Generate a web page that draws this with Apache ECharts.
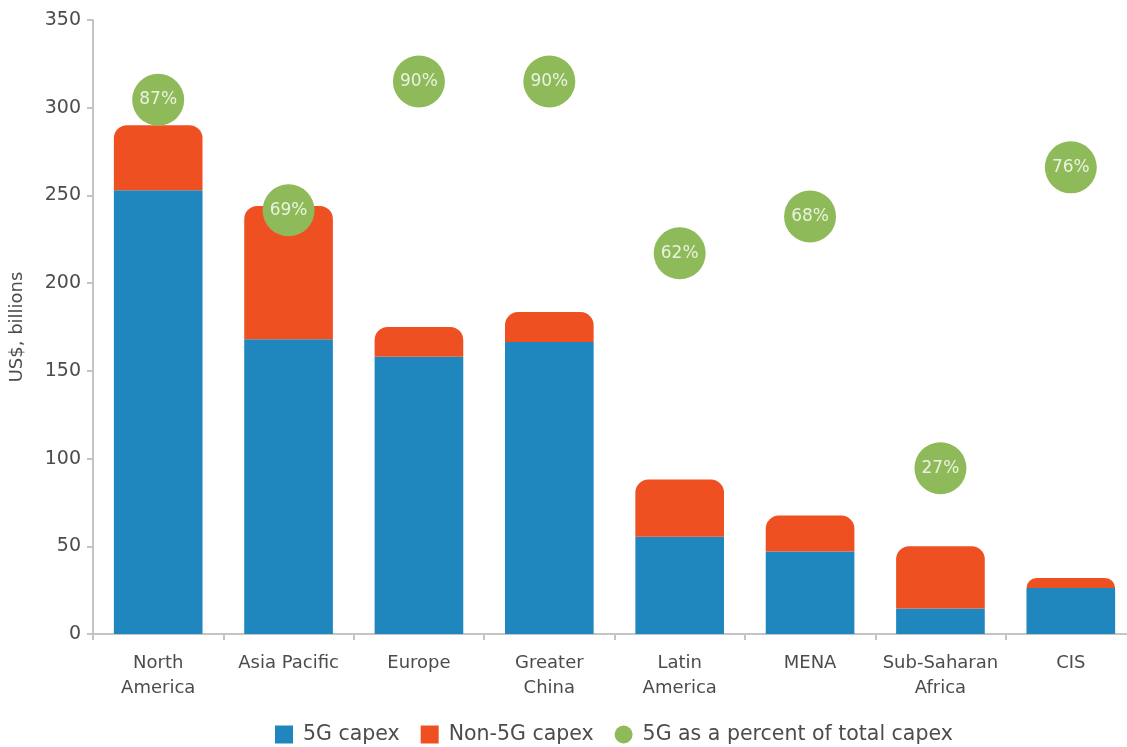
<!DOCTYPE html>
<html>
<head>
<meta charset="utf-8">
<script src="https://cdn.jsdelivr.net/npm/echarts@6/dist/echarts.min.js"></script>
<style>
html,body{margin:0;padding:0;background:#fff;overflow:hidden;width:1127px;height:747px;}
#c{width:1136px;height:747px;}
</style>
</head>
<body>
<div id="c"></div>
<script>
const categories = ['North\nAmerica','Asia Pacific','Europe','Greater\nChina','Latin\nAmerica','MENA','Sub-Saharan\nAfrica','CIS'];
const capex5G = [253, 168, 158, 166.5, 55.5, 47, 14.5, 26.2];
const capexNon5G = [37, 76, 17, 17, 32.5, 20.5, 35.5, 5.7];
const pct5G = [87, 69, 90, 90, 62, 68, 27, 76];
const yTicks = [0, 50, 100, 150, 200, 250, 300, 350];

const FONT = '"DejaVu Sans", "Open Sans", sans-serif';
const BLUE = '#2087be', ORANGE = '#ef5021', GREEN = '#8fba5a', AXIS = '#c4c4c4', TXT = '#4c4c4c';

const chart = echarts.init(document.getElementById('c'), null, {renderer:'canvas'});
chart.setOption({
  backgroundColor:'#fff',
  animation:false,
  textStyle:{fontFamily:FONT},
  grid:{left:93, top:20, bottom:113, right:0, containLabel:false},
  legend:{
    left:270, top:719, itemWidth:18, itemHeight:18, itemGap:21,
    textStyle:{fontFamily:FONT, fontSize:20.5, color:TXT, padding:[0,0,0,5]},
    data:[
      {name:'5G capex', icon:'rect'},
      {name:'Non-5G capex', icon:'rect'},
      {name:'5G as a percent of total capex', icon:'circle'}
    ]
  },
  xAxis:{
    type:'category', data:categories,
    axisLine:{show:true, lineStyle:{color:AXIS, width:2}},
    axisTick:{show:true, alignWithLabel:false, length:6, lineStyle:{color:AXIS, width:2}},
    axisLabel:{color:TXT, fontSize:18, lineHeight:25, margin:17, fontFamily:FONT, interval:0}
  },
  yAxis:[{
    type:'value', min:0, max:350, interval:50,
    name:'US$, billions', nameLocation:'middle', nameGap:67, nameRotate:90,
    nameTextStyle:{color:TXT, fontSize:18, fontFamily:FONT},
    axisLine:{show:true, lineStyle:{color:AXIS, width:2}},
    axisTick:{show:true, length:6, lineStyle:{color:AXIS, width:2}},
    splitLine:{show:false},
    axisLabel:{color:TXT, fontSize:19, margin:12, fontFamily:FONT,
      formatter:(v)=> yTicks.includes(v) ? String(v) : ''}
  },{
    type:'value', min:0, max:100, show:false, splitLine:{show:false}
  }],
  series:[
    {name:'5G capex', type:'bar', stack:'t', barWidth:'68%', data:capex5G,
     itemStyle:{color:BLUE}},
    {name:'Non-5G capex', type:'bar', stack:'t', data:capexNon5G,
     itemStyle:{color:ORANGE, borderRadius:[13,13,0,0]}},
    {name:'5G as a percent of total capex', type:'scatter', yAxisIndex:1,
     symbolSize:52, data:pct5G, z:5,
     itemStyle:{color:GREEN, opacity:1},
     label:{show:true, position:'inside', color:'#eaf2df', fontSize:17, fontFamily:FONT,
       formatter:(p)=> p.value + '%'}}
  ]
});
</script>
</body>
</html>
